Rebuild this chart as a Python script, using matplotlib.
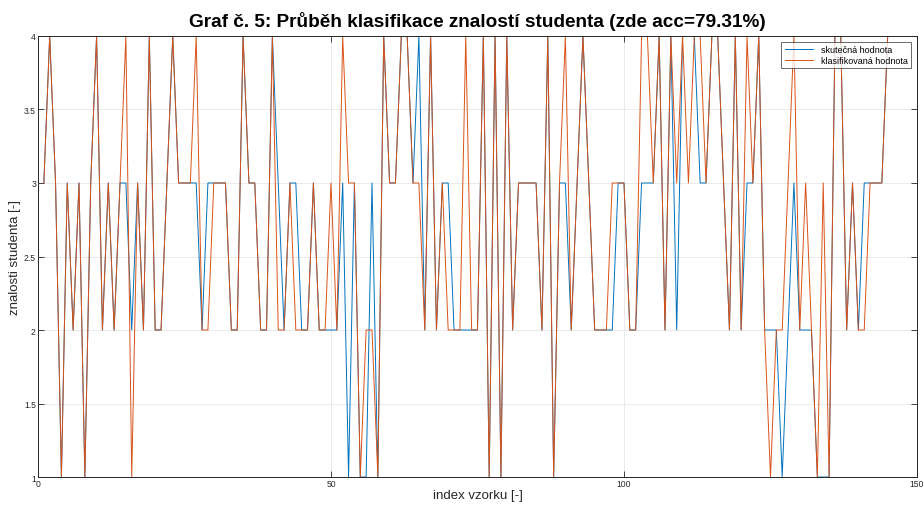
import matplotlib
matplotlib.use("Agg")
import matplotlib.pyplot as plt
import numpy as np

plt.rcParams['font.family'] = ['Liberation Sans', 'DejaVu Sans']

# skutečné hodnoty znalostí (1-4) pro vzorky 1..145
actual = [
    3, 4, 3, 1, 3, 2, 3, 1, 3, 4, 2, 3, 2, 3, 3, 2, 3, 2, 4, 2,
    2, 3, 4, 3, 3, 3, 3, 2, 3, 3, 3, 3, 2, 2, 4, 3, 3, 2, 2, 4,
    3, 2, 3, 3, 2, 2, 3, 2, 2, 2, 2, 3, 1, 3, 1, 1, 3, 1, 4, 3,
    3, 4, 4, 3, 4, 2, 4, 2, 3, 3, 2, 2, 2, 2, 2, 4, 1, 4, 1, 4,
    2, 3, 3, 3, 3, 2, 4, 1, 3, 3, 2, 3, 4, 3, 2, 2, 2, 2, 3, 3,
    2, 2, 3, 3, 3, 4, 2, 4, 2, 4, 4, 4, 3, 3, 4, 4, 3, 2, 4, 2,
    3, 3, 4, 2, 2, 2, 1, 2, 3, 2, 2, 2, 1, 1, 1, 4, 4, 2, 3, 2,
    3, 3, 3, 3, 4,
]

# výstup klasifikátoru
predicted = [
    3, 4, 3, 1, 3, 2, 3, 1, 3, 4, 2, 3, 2, 3, 4, 1, 3, 2, 4, 2,
    2, 3, 4, 3, 3, 3, 4, 2, 2, 3, 3, 3, 2, 2, 4, 3, 3, 2, 2, 4,
    2, 2, 3, 2, 2, 2, 3, 2, 2, 3, 2, 4, 3, 3, 1, 2, 2, 1, 4, 3,
    3, 4, 4, 3, 3, 2, 4, 2, 3, 2, 2, 2, 4, 2, 2, 4, 1, 4, 1, 4,
    2, 3, 3, 3, 3, 2, 4, 1, 3, 4, 2, 3, 4, 3, 2, 2, 2, 3, 3, 3,
    2, 2, 4, 4, 3, 4, 2, 4, 3, 4, 3, 4, 4, 3, 4, 4, 3, 2, 4, 2,
    4, 3, 4, 2, 1, 2, 2, 3, 4, 2, 3, 2, 1, 3, 1, 4, 4, 2, 3, 2,
    2, 3, 3, 3, 4,
]

idx = np.arange(1, len(actual) + 1)

fig = plt.figure(figsize=(9.24, 5.06), dpi=100)
ax = fig.add_axes([0.0411, 0.0553, 0.9513, 0.8716])

ax.plot(idx, actual, color='#0072BD', lw=0.7, label='skutečná hodnota')
ax.plot(idx, predicted, color='#D95319', lw=0.7, label='klasifikovaná hodnota')

ax.set_xlim(0, 150)
ax.set_ylim(1, 4)
ax.set_xticks([0, 50, 100, 150])
ax.set_yticks([1, 1.5, 2, 2.5, 3, 3.5, 4])
ax.set_yticklabels(['1', '1.5', '2', '2.5', '3', '3.5', '4'])
ax.grid(True, color='#e6e6e6', lw=0.6)
ax.set_axisbelow(True)
ax.tick_params(direction='in', length=4, width=0.6, labelsize=6.2, colors='#262626',
               top=True, right=True, pad=1.5)
for s in ax.spines.values():
    s.set_color('#262626')
    s.set_linewidth(0.7)

ax.set_xlabel('index vzorku [-]', fontsize=9.5, color='#262626', labelpad=0.5)
ax.set_ylabel('znalosti studenta [-]', fontsize=9.5, color='#262626', labelpad=2)
ax.set_title('Graf č. 5: Průběh klasifikace znalostí studenta (zde acc=79.31%)',
             fontsize=13.7, fontweight='bold', pad=7)

leg = ax.legend(loc='upper right', fontsize=6.5, frameon=True, fancybox=False,
                edgecolor='#262626', borderaxespad=0.7, handlelength=3.2,
                labelspacing=0.2, borderpad=0.35)
leg.get_frame().set_linewidth(0.6)

fig.savefig('out.png', dpi=100)
